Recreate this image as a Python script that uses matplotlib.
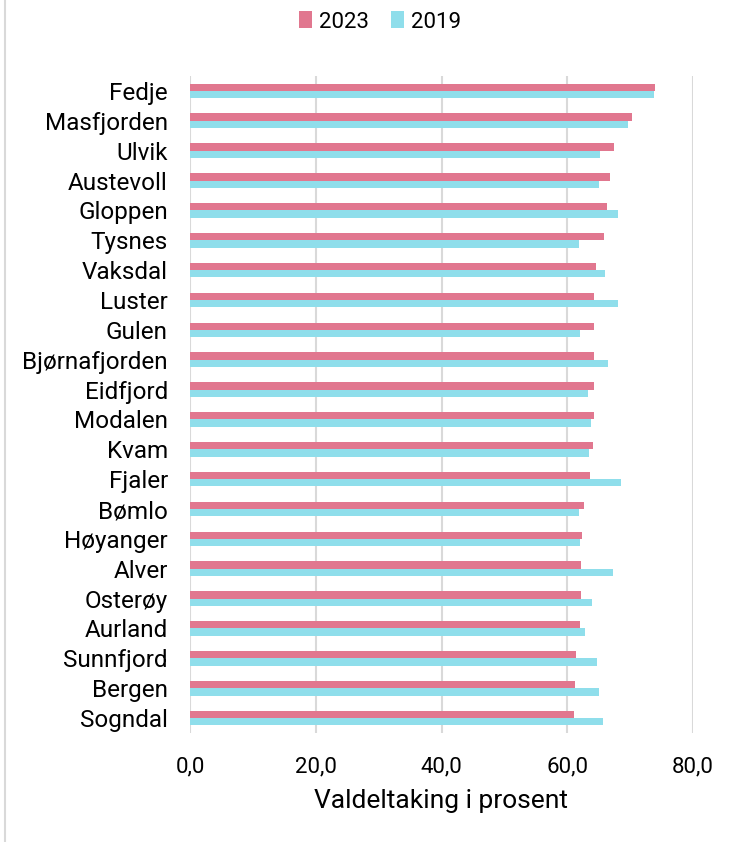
import numpy as np
import matplotlib
matplotlib.use("Agg")
import matplotlib.pyplot as plt
from matplotlib.lines import Line2D

plt.rcParams['font.family'] = ['Roboto', 'DejaVu Sans']

kommunar = ['Fedje', 'Masfjorden', 'Ulvik', 'Austevoll', 'Gloppen', 'Tysnes',
            'Vaksdal', 'Luster', 'Gulen', 'Bjørnafjorden', 'Eidfjord', 'Modalen',
            'Kvam', 'Fjaler', 'Bømlo', 'Høyanger', 'Alver', 'Osterøy', 'Aurland',
            'Sunnfjord', 'Bergen', 'Sogndal']
val_2023 = [74.0, 70.3, 67.5, 66.8, 66.3, 65.9, 64.6, 64.3, 64.3, 64.3, 64.3,
            64.2, 64.1, 63.6, 62.6, 62.4, 62.2, 62.2, 62.0, 61.4, 61.2, 61.0]
val_2019 = [73.8, 69.7, 65.2, 65.0, 68.0, 61.8, 66.0, 68.1, 62.1, 66.5, 63.3,
            63.7, 63.4, 68.5, 61.8, 62.1, 67.3, 63.9, 62.9, 64.7, 65.0, 65.7]
xticks = [0, 20, 40, 60, 80]

pink = '#e1778f'
cyan = '#8fdeeb'

fig = plt.figure(figsize=(7.35, 8.42), dpi=100)
ax = fig.add_axes([190/735, 1 - 733/842, (693 - 190)/735, (733 - 76)/842])

y = np.arange(len(kommunar))
h = 0.245
ax.barh(y - h/2, val_2023, height=h, color=pink, label='2023', zorder=3)
ax.barh(y + h/2, val_2019, height=h, color=cyan, label='2019', zorder=3)

ax.set_ylim(len(kommunar) - 0.5, -0.5)
ax.set_xlim(0, 80)
ax.set_yticks(y)
ax.set_yticklabels(kommunar, fontsize=17.5)
for lab in ax.get_yticklabels():
    lab.set_y(lab.get_position()[1])
    lab.set_verticalalignment('center_baseline')
ax.set_xticks(xticks)
ax.set_xticklabels([f'{v:.1f}'.replace('.', ',') for v in xticks], fontsize=16)
ax.tick_params(length=0)
ax.tick_params(axis='y', pad=16)
ax.tick_params(axis='x', pad=17)
ax.grid(axis='x', color='#d9d9d9', linewidth=1.5, zorder=0)
for s in ax.spines.values():
    s.set_visible(False)

ax.set_xlabel('Valdeltaking i prosent', fontsize=19, labelpad=8)

fig.legend(loc='center', bbox_to_anchor=(380/735, 1 - 22/842), ncol=2,
           frameon=False, fontsize=16, handlelength=0.6, handleheight=0.8,
           handletextpad=0.3, columnspacing=1.0)

# chart frame on the left
fig.add_artist(Line2D([5/735, 5/735], [0, 1], color='#d9d9d9', linewidth=1.5))

fig.savefig('out.png', dpi=100)
